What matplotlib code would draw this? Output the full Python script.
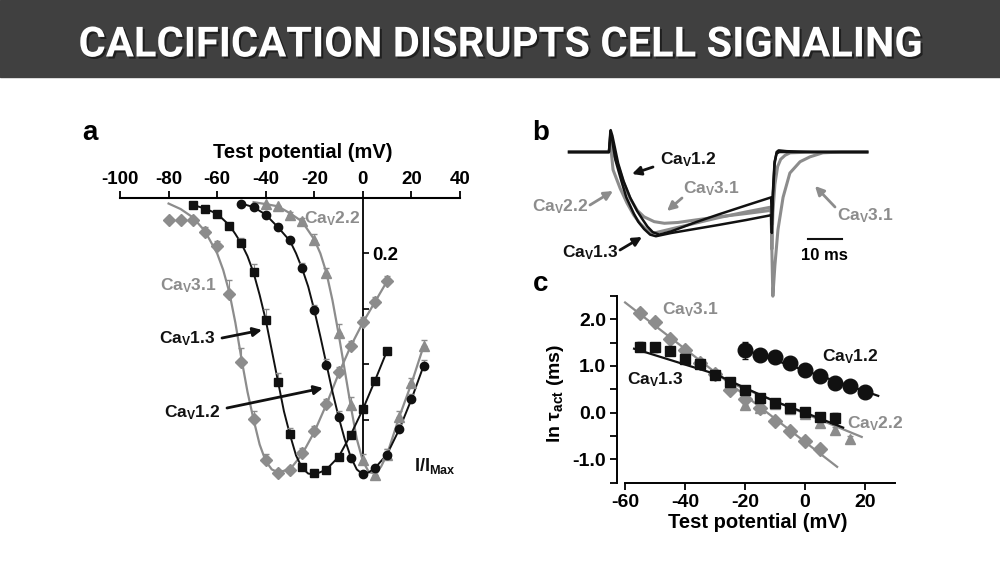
import matplotlib
matplotlib.use("Agg")
import matplotlib.pyplot as plt
import matplotlib.patheffects as pe
from matplotlib.patches import Rectangle

plt.rcParams['font.family'] = ['Liberation Sans', 'DejaVu Sans']
plt.rcParams['font.weight'] = 'bold'
plt.rcParams['mathtext.fontset'] = 'custom'
plt.rcParams['mathtext.rm'] = 'Liberation Sans:bold'
plt.rcParams['mathtext.it'] = 'Liberation Sans:bold'
plt.rcParams['mathtext.bf'] = 'Liberation Sans:bold'
plt.rcParams['mathtext.sf'] = 'Liberation Sans:bold'

GRAY = '#8c8c8c'
BLACK = '#111111'

# ---------------- Panel a data (I/Imax, plotted downward) ----------------
a_v31_x = [-80, -75, -70, -65, -60, -55, -50, -45, -40, -35, -30, -25, -20, -15, -10, -5, 0, 5, 10]
a_v31_y = [0.078, 0.078, 0.078, 0.124, 0.175, 0.347, 0.593, 0.799, 0.946, 0.992, 0.982, 0.922, 0.843, 0.745, 0.630, 0.536, 0.449, 0.377, 0.301]
a_v31_e = [0, 0, 0, 0.02, 0.02, 0.05, 0.05, 0.03, 0.02, 0.01, 0.01, 0.02, 0.02, 0.02, 0.02, 0.02, 0.02, 0.02, 0.02]
a_v13_x = [-70, -65, -60, -55, -50, -45, -40, -35, -30, -25, -20, -15, -10, -5, 0, 5, 10]
a_v13_y = [0.027, 0.040, 0.057, 0.100, 0.163, 0.267, 0.442, 0.663, 0.852, 0.970, 0.994, 0.982, 0.934, 0.855, 0.763, 0.659, 0.551]
a_v13_e = [0, 0, 0.01, 0.01, 0.02, 0.03, 0.04, 0.03, 0.02, 0.01, 0.01, 0.01, 0.01, 0.01, 0.01, 0.01, 0.01]
a_v12_x = [-50, -45, -40, -35, -30, -25, -20, -15, -10, -5, 0, 5, 10, 15, 20, 25]
a_v12_y = [0.022, 0.033, 0.060, 0.105, 0.153, 0.253, 0.406, 0.602, 0.789, 0.940, 0.998, 0.976, 0.928, 0.835, 0.727, 0.606]
a_v12_e = [0, 0, 0.01, 0.01, 0.01, 0.02, 0.02, 0.02, 0.02, 0.01, 0.01, 0.01, 0.02, 0.02, 0.02, 0.02]
a_v22_x = [-40, -35, -30, -25, -20, -15, -10, -5, 0, 5, 10, 15, 20, 25]
a_v22_y = [0.022, 0.030, 0.060, 0.084, 0.151, 0.271, 0.486, 0.747, 0.946, 1.000, 0.928, 0.789, 0.669, 0.534]
a_v22_e = [0, 0, 0.01, 0.01, 0.02, 0.02, 0.03, 0.03, 0.02, 0.01, 0.02, 0.02, 0.02, 0.02]

# fitted curves
f_v31_x = [-80, -75, -70, -65, -60, -57.5, -55, -52.5, -50, -47.5, -45, -42.5, -40, -37.5, -35, -30, -25, -20, -15, -10, -5, 0, 5, 10]
f_v31_y = [0.02, 0.04, 0.07, 0.12, 0.20, 0.26, 0.34, 0.45, 0.58, 0.70, 0.80, 0.89, 0.95, 0.98, 0.99, 0.98, 0.925, 0.845, 0.745, 0.635, 0.535, 0.45, 0.375, 0.30]
f_v13_x = [-70, -65, -60, -55, -52.5, -50, -47.5, -45, -42.5, -40, -37.5, -35, -32.5, -30, -27.5, -25, -22.5, -20, -17.5, -15, -10, -5, 0, 5, 10]
f_v13_y = [0.025, 0.038, 0.057, 0.098, 0.13, 0.165, 0.21, 0.27, 0.35, 0.44, 0.55, 0.66, 0.77, 0.855, 0.93, 0.975, 0.995, 0.998, 0.99, 0.98, 0.935, 0.855, 0.763, 0.659, 0.551]
f_v12_x = [-50, -45, -40, -35, -30, -27.5, -25, -22.5, -20, -17.5, -15, -12.5, -10, -7.5, -5, -2.5, 0, 2.5, 5, 10, 15, 20, 25]
f_v12_y = [0.02, 0.033, 0.06, 0.105, 0.155, 0.20, 0.255, 0.32, 0.405, 0.50, 0.60, 0.70, 0.79, 0.87, 0.935, 0.98, 0.998, 0.99, 0.975, 0.925, 0.835, 0.727, 0.606]
f_v22_x = [-45, -40, -35, -30, -25, -20, -17.5, -15, -12.5, -10, -7.5, -5, -2.5, 0, 2.5, 5, 7.5, 10, 15, 20, 25]
f_v22_y = [0.015, 0.022, 0.03, 0.055, 0.085, 0.15, 0.20, 0.27, 0.37, 0.49, 0.62, 0.75, 0.87, 0.95, 0.99, 0.995, 0.97, 0.925, 0.79, 0.67, 0.535]

a_xticks = [-100, -80, -60, -40, -20, 0, 20, 40]
a_yticks = [0.2, 0.4, 0.6, 0.8]
a_ytick_labels = ['0.2', '', '', '']

# ---------------- Panel b traces (time ms, normalized current) ----------------
b_v12_t = [-12, -0.3, 0.2, 0.7, 2.4, 4, 5.9, 8, 9.7, 11, 12.6, 14.5, 18, 25, 32, 40, 47.4, 47.6, 47.9, 48.4, 49.0, 49.6, 52, 60, 68, 75.6]
b_v12_i = [0, 0, 0.27, 0.20, -0.14, -0.36, -0.56, -0.73, -0.84, -0.92, -0.99, -1.02, -0.98, -0.87, -0.77, -0.66, -0.56, -0.90, -0.55, -0.15, 0.0, 0.02, 0.01, 0.0, 0.0, 0.0]
b_v13_t = [-12, -0.3, 0.1, 0.5, 1.6, 3.5, 4.8, 7, 8.3, 10, 11.8, 13.5, 18, 25, 32, 40, 47.4, 47.6, 47.9, 48.4, 49.0, 49.8, 52, 60, 68, 75.6]
b_v13_i = [0, 0, 0.25, 0.18, -0.10, -0.38, -0.56, -0.76, -0.86, -0.95, -1.02, -1.04, -1.00, -0.95, -0.90, -0.84, -0.78, -1.00, -0.50, -0.12, -0.02, 0.0, 0.0, 0.0, 0.0, 0.0]
b_v22_t = [-12, -0.3, 0.1, 0.9, 3, 5, 7, 8.8, 10.5, 11.8, 13, 18, 25, 32, 40, 47.4, 47.6, 47.9, 48.5, 49.3, 50.2, 51.5, 53, 60, 68, 75.6]
b_v22_i = [0, 0, 0.12, -0.22, -0.45, -0.63, -0.78, -0.88, -0.95, -0.99, -1.00, -0.95, -0.88, -0.81, -0.74, -0.68, -1.20, -0.75, -0.40, -0.18, -0.09, -0.04, -0.01, 0.0, 0.0, 0.0]
b_v31_t = [-12, -0.3, 0.2, 1, 2, 4, 6, 8, 10, 13, 16, 20, 25, 32, 40, 47.4, 47.6, 47.9, 48.5, 49.4, 50.9, 52.9, 55.9, 58.8, 62.6, 68, 75.6]
b_v31_i = [0, 0, 0.08, -0.02, -0.12, -0.38, -0.58, -0.72, -0.80, -0.86, -0.88, -0.87, -0.84, -0.80, -0.76, -0.72, -1.20, -1.78, -1.40, -0.96, -0.56, -0.26, -0.12, -0.06, -0.01, 0.0, 0.0]
b_scale_ms = 10

# ---------------- Panel c data (ln tau_act) ----------------
c_v31_x = [-55, -50, -45, -40, -35, -30, -25, -20, -15, -10, -5, 0, 5]
c_v31_y = [2.14, 1.95, 1.58, 1.35, 1.07, 0.82, 0.48, 0.30, 0.09, -0.17, -0.39, -0.61, -0.78]
c_v31_e = [0.07, 0.05, 0.05, 0.04, 0.04, 0.04, 0.04, 0.04, 0.04, 0.04, 0.04, 0.04, 0.07]
c_v22_x = [-20, -15, -10, -5, 0, 5, 10, 15]
c_v22_y = [0.16, 0.10, 0.18, 0.07, -0.03, -0.22, -0.38, -0.56]
c_v22_e = [0.08, 0.06, 0.05, 0.05, 0.05, 0.07, 0.07, 0.05]
c_v13_x = [-55, -50, -45, -40, -35, -30, -25, -20, -15, -10, -5, 0, 5, 10]
c_v13_y = [1.41, 1.40, 1.33, 1.16, 1.04, 0.81, 0.65, 0.48, 0.32, 0.20, 0.10, 0.02, -0.09, -0.12]
c_v13_e = [0.10, 0.10, 0.04, 0.04, 0.03, 0.03, 0.03, 0.03, 0.03, 0.03, 0.03, 0.03, 0.05, 0.12]
c_v12_x = [-20, -15, -10, -5, 0, 5, 10, 15, 20]
c_v12_y = [1.34, 1.24, 1.19, 1.06, 0.91, 0.79, 0.63, 0.57, 0.45]
c_v12_e = [0.18, 0.04, 0.04, 0.04, 0.04, 0.04, 0.04, 0.04, 0.04]

c_f31_x = [-60, 10.7]
c_f31_y = [2.36, -1.16]
c_f22_x = [-25, 18.9]
c_f22_y = [0.64, -0.52]
c_f13_x = [-57, -45, -35, -30, -20, -10, 0, 12.7]
c_f13_y = [1.37, 1.13, 0.93, 0.83, 0.53, 0.24, 0.0, -0.32]
c_f12_x = [-20.2, 24.4]
c_f12_y = [1.35, 0.36]

c_xticks = [-60, -40, -20, 0, 20]
c_yticks = [-1.0, 0.0, 1.0, 2.0]

# ---------------- helpers ----------------
W, H = 1000, 563
fig = plt.figure(figsize=(10, 5.63), dpi=100)


def fx(px):
    return px / W


def fy(py):
    return 1 - py / H


def ax_rect(l, t, r, b):
    return [fx(l), fy(b), (r - l) / W, (b - t) / H]


def ca(s):
    return r'Ca$_\mathrm{V}$' + s


# banner
fig.patches.append(Rectangle((0, fy(77)), 1, 77 / H, transform=fig.transFigure,
                             color='#404040', zorder=0))
fig.text(0.5, fy(45), 'CALCIFICATION DISRUPTS CELL SIGNALING', ha='center', va='center',
         color='white', fontsize=30, fontweight='bold', family=['Roboto', 'DejaVu Sans'],
         path_effects=[pe.withSimplePatchShadow(offset=(1.5, -1.5), shadow_rgbFace='black', alpha=0.5)])

# ---------------- Panel a ----------------
axa = fig.add_axes(ax_rect(120, 198, 460, 480.5))
axa.set_xlim(-100, 40)
axa.set_ylim(-1.02, 0)
neg = lambda v: [-x for x in v]

axa.plot(f_v31_x, neg(f_v31_y), color=GRAY, lw=1.6, zorder=2, clip_on=False)
axa.plot(f_v22_x, neg(f_v22_y), color=GRAY, lw=1.6, zorder=2, clip_on=False)
axa.plot(f_v13_x, neg(f_v13_y), color=BLACK, lw=1.4, zorder=3, clip_on=False)
axa.plot(f_v12_x, neg(f_v12_y), color=BLACK, lw=1.4, zorder=3, clip_on=False)

axa.errorbar(a_v31_x, neg(a_v31_y), yerr=[[0] * len(a_v31_e), a_v31_e], fmt='D', ms=6, color=GRAY,
             ecolor=GRAY, elinewidth=0.8, capsize=2, zorder=4, clip_on=False)
axa.errorbar(a_v22_x, neg(a_v22_y), yerr=[[0] * len(a_v22_e), a_v22_e], fmt='^', ms=6.5, color=GRAY,
             ecolor=GRAY, elinewidth=0.8, capsize=2, zorder=4, clip_on=False)
axa.errorbar(a_v13_x, neg(a_v13_y), yerr=[[0] * len(a_v13_e), a_v13_e], fmt='s', ms=5.5, color=BLACK,
             ecolor=GRAY, elinewidth=0.8, capsize=2, zorder=5, clip_on=False)
axa.errorbar(a_v12_x, neg(a_v12_y), yerr=[[0] * len(a_v12_e), a_v12_e], fmt='o', ms=6, color=BLACK,
             ecolor=GRAY, elinewidth=0.8, capsize=2, zorder=5, clip_on=False)

for s in ['left', 'bottom']:
    axa.spines[s].set_visible(False)
axa.spines['top'].set_linewidth(1.5)
axa.spines['right'].set_position(('data', 0))
axa.spines['right'].set_bounds(-0.96, 0)
axa.spines['right'].set_linewidth(1.3)
axa.xaxis.tick_top()
axa.set_xticks(a_xticks)
axa.set_xticklabels([str(v) for v in a_xticks])
axa.tick_params(axis='x', direction='out', length=5, width=1.3, labelsize=13.5, pad=2)
axa.yaxis.tick_right()
axa.set_yticks(neg(a_yticks))
axa.set_yticklabels(a_ytick_labels)
axa.tick_params(axis='y', direction='out', length=4, width=1.2, labelsize=13.5, pad=3)
axa.patch.set_alpha(0)

fig.text(fx(303), fy(153), 'Test potential (mV)', ha='center', va='center', fontsize=14.5)
fig.text(fx(90), fy(133), 'a', ha='center', va='center', fontsize=20)
fig.text(fx(332), fy(219), ca('2.2'), ha='center', va='center', fontsize=12.5, color=GRAY)
fig.text(fx(188), fy(286), ca('3.1'), ha='center', va='center', fontsize=12.5, color=GRAY)
fig.text(fx(187), fy(339), ca('1.3'), ha='center', va='center', fontsize=12.5, color=BLACK)
fig.text(fx(192), fy(413), ca('1.2'), ha='center', va='center', fontsize=12.5, color=BLACK)
fig.text(fx(435), fy(466), r'I/I$_\mathrm{Max}$', ha='center', va='center', fontsize=13, color=BLACK)

arrow_k = dict(arrowstyle='-|>', lw=2, color=BLACK, mutation_scale=13, shrinkA=0, shrinkB=0)
axa.annotate('', xy=(fx(262), fy(330)), xytext=(fx(222), fy(338)), xycoords='figure fraction',
             textcoords='figure fraction', arrowprops=arrow_k)
axa.annotate('', xy=(fx(323), fy(388)), xytext=(fx(227), fy(408)), xycoords='figure fraction',
             textcoords='figure fraction', arrowprops=arrow_k)

# ---------------- Panel b ----------------
axb = fig.add_axes(ax_rect(565, 125, 875, 300))
axb.set_xlim((565 - 610) / 3.4, (875 - 610) / 3.4)
axb.set_ylim((152 - 300) / 81, (152 - 125) / 81)
axb.axis('off')
axb.plot(b_v31_t, b_v31_i, color=GRAY, lw=2.2, zorder=2)
axb.plot(b_v22_t, b_v22_i, color=GRAY, lw=2.2, zorder=2)
axb.plot(b_v13_t, b_v13_i, color=BLACK, lw=1.8, zorder=3)
axb.plot(b_v12_t, b_v12_i, color=BLACK, lw=1.8, zorder=3)
axb.plot([58.2, 58.2 + b_scale_ms], [(152 - 239) / 81] * 2, color=BLACK, lw=1.5)
axb.text(58.2 + b_scale_ms / 2, (152 - 255) / 81, '%d ms' % b_scale_ms, ha='center', va='center', fontsize=12)

fig.text(fx(541), fy(133), 'b', ha='center', va='center', fontsize=20)
fig.text(fx(688), fy(160), ca('1.2'), ha='center', va='center', fontsize=12.5, color=BLACK)
fig.text(fx(560), fy(207), ca('2.2'), ha='center', va='center', fontsize=12.5, color=GRAY)
fig.text(fx(711), fy(189), ca('3.1'), ha='center', va='center', fontsize=12.5, color=GRAY)
fig.text(fx(590), fy(253), ca('1.3'), ha='center', va='center', fontsize=12.5, color=BLACK)
fig.text(fx(865), fy(216), ca('3.1'), ha='center', va='center', fontsize=12.5, color=GRAY)
arrow_g = dict(arrow_k, color=GRAY)
for (x0, y0, x1, y1, ak) in [(653, 167, 632, 174, arrow_k), (590, 205, 613, 191, arrow_g),
                             (682, 198, 667, 211, arrow_g), (620, 250, 642, 237, arrow_k),
                             (835, 207, 815, 186, arrow_g)]:
    axb.annotate('', xy=(fx(x1), fy(y1)), xytext=(fx(x0), fy(y0)), xycoords='figure fraction',
                 textcoords='figure fraction', arrowprops=ak)

# ---------------- Panel c ----------------
axc = fig.add_axes(ax_rect(617, 295, 895, 482.7))
axc.set_xlim(-62.7, 30)
axc.set_ylim(-1.5, 2.52)
axc.plot(c_f31_x, c_f31_y, color=GRAY, lw=1.6, zorder=2)
axc.plot(c_f22_x, c_f22_y, color=GRAY, lw=1.6, zorder=2)
axc.errorbar(c_v31_x, c_v31_y, yerr=c_v31_e, fmt='D', ms=7, color=GRAY, ecolor=GRAY,
             elinewidth=1, capsize=2.5, zorder=3)
axc.errorbar(c_v22_x, c_v22_y, yerr=c_v22_e, fmt='^', ms=7.5, color=GRAY, ecolor=GRAY,
             elinewidth=1, capsize=2.5, zorder=3)
axc.plot(c_f13_x, c_f13_y, color=BLACK, lw=1.6, zorder=4)
axc.plot(c_f12_x, c_f12_y, color=BLACK, lw=1.6, zorder=4)
axc.errorbar(c_v13_x, c_v13_y, yerr=c_v13_e, fmt='s', ms=6.5, color=BLACK, ecolor=BLACK,
             elinewidth=1, capsize=2.5, zorder=5)
axc.errorbar(c_v12_x, c_v12_y, yerr=c_v12_e, fmt='o', ms=10.5, color=BLACK, ecolor=BLACK,
             elinewidth=1, capsize=2.5, zorder=5)
for s in ['top', 'right']:
    axc.spines[s].set_visible(False)
axc.spines['left'].set_bounds(-1.5, 2.5)
axc.spines['bottom'].set_bounds(-60, 30)
axc.spines['left'].set_linewidth(1.4)
axc.spines['bottom'].set_linewidth(1.4)
axc.set_xticks(c_xticks)
axc.set_xticklabels([str(v) for v in c_xticks])
axc.set_yticks(c_yticks)
axc.set_yticklabels(['%.1f' % v for v in c_yticks])
axc.set_yticks([-1.5, -0.5, 0.5, 1.5, 2.5], minor=True)
axc.tick_params(axis='both', direction='out', length=5, width=1.3, labelsize=14, pad=3)
axc.tick_params(axis='y', which='minor', direction='out', length=5, width=1.3)
axc.patch.set_alpha(0)
fig.text(fx(758), fy(523), 'Test potential (mV)', ha='center', va='center', fontsize=14.5)
fig.text(fx(555), fy(393), r'ln $\tau_\mathrm{act}$ (ms)', ha='center', va='center', fontsize=14, rotation=90)
fig.text(fx(541), fy(284), 'c', ha='center', va='center', fontsize=20)
fig.text(fx(690), fy(310), ca('3.1'), ha='center', va='center', fontsize=12.5, color=GRAY)
fig.text(fx(655), fy(380), ca('1.3'), ha='center', va='center', fontsize=12.5, color=BLACK)
fig.text(fx(850), fy(357), ca('1.2'), ha='center', va='center', fontsize=12.5, color=BLACK)
fig.text(fx(875), fy(424), ca('2.2'), ha='center', va='center', fontsize=12.5, color=GRAY)

fig.savefig('out.png', dpi=100)
